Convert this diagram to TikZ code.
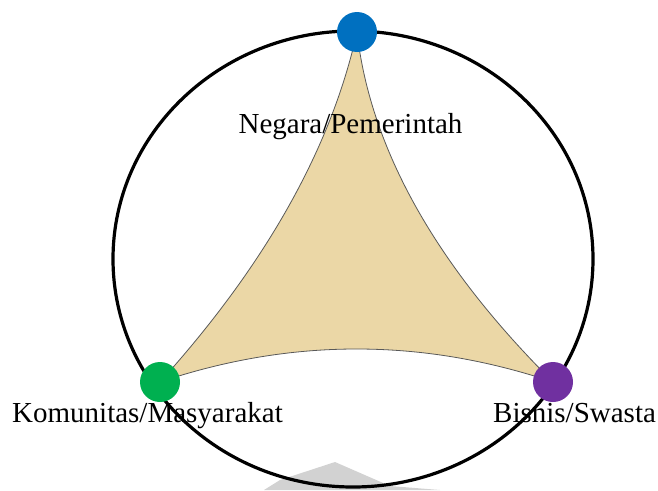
\documentclass[tikz,border=0pt]{standalone}
\usepackage{fontspec}
\setmainfont{Liberation Serif}
\usepackage{xcolor}
\usepackage{tikz}
\usetikzlibrary{positioning,backgrounds}

\definecolor{negarablue}{RGB}{0,112,192}
\definecolor{komunitasgreen}{RGB}{0,176,80}
\definecolor{bisnispurple}{RGB}{112,48,160}
\definecolor{sailtan}{RGB}{235,215,166}

\begin{document}
\begin{tikzpicture}[
  x=1pt, y=-1pt,
  dot/.style={circle, draw=none, minimum size=40pt, inner sep=0pt},
  sail/.style={fill=sailtan, draw=black!65, line width=0.8pt},
  ring/.style={draw=black, line width=3.2pt},
  label/.style={font=\fontsize{29}{34}\selectfont, inner sep=0pt, anchor=base},
]
\useasboundingbox (0,0) rectangle (658,490);

% Faint shape at the bottom
\fill[gray!35] (264,490) -- (280,480) -- (335,462) -- (390,486) -- (440,490) -- cycle;

% Outer ring
\draw[ring] (353,259) ellipse [x radius=240, y radius=228];

% Corner dots
\node[dot, fill=negarablue] (negara) at (357,32) {};
\node[dot, fill=komunitasgreen] (komunitas) at (160,382) {};
\node[dot, fill=bisnispurple] (bisnis) at (553,382) {};

% Curved triangle
\begin{scope}[on background layer]
\path[sail] (negara.center)
  .. controls (331,148.7) and (265.3,265.3) .. (komunitas.center)
  .. controls (291,338) and (422,338) .. (bisnis.center)
  .. controls (435.7,265.3) and (370.3,148.7) .. (negara.center) -- cycle;
\end{scope}

% Labels
\node[label] (negaralabel) at (350.5,133) {Negara/Pemerintah};
\node[label, anchor=base east] (komunitaslabel) at (283,422) {Komunitas/Masyarakat};
\node[label, anchor=base west] (bisnislabel) at (493,422) {Bisnis/Swasta};

\end{tikzpicture}
\end{document}
